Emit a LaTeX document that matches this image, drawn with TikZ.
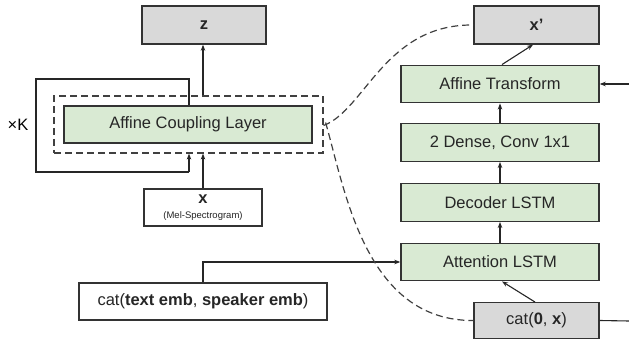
\documentclass[tikz,border=0pt]{standalone}
\usepackage{fontspec}
\setmainfont{Liberation Sans}
\usepackage{xcolor}
\usetikzlibrary{arrows.meta}
\definecolor{boxgreen}{HTML}{D9EAD3}
\definecolor{boxgrey}{HTML}{D9D9D9}
\definecolor{edge}{HTML}{333333}
\begin{document}
\begin{tikzpicture}[x=1pt,y=-1pt,
  font=\fontsize{16.5}{18}\selectfont,
  blk/.style={draw=edge,line width=1.4pt,inner sep=0pt,text=black!85},
  layer/.style={blk,fill=boxgreen,minimum width=198pt,minimum height=37.5pt},
  outbox/.style={blk,fill=boxgrey,minimum height=38pt},
  inbox/.style={blk,fill=white,minimum height=37pt},
  arr/.style={-{Stealth[length=6pt,width=4.5pt]},line width=1.1pt,draw=black!85},
  dashln/.style={line width=1.2pt,draw=black!75,dash pattern=on 7pt off 4pt}]
\useasboundingbox (0,0) rectangle (629,339);

\node[outbox,minimum width=124pt] (z) at (204,25) {\textbf{z}};
\node[layer,minimum width=248pt,minimum height=37pt] (acl) at (188,124.5) {Affine Coupling Layer};
\node[dashln,draw,minimum width=269pt,minimum height=57pt] (cpl) at (188.5,124.5) {};
\node[inbox,minimum width=118pt,align=center] (x) at (203,207.5)
  {\textbf{x}\\[-3pt]{\fontsize{9.5}{10}\selectfont (Mel-Spectrogram)}};
\node[inbox,minimum width=248pt] (cat) at (203,301.5) {cat(\textbf{text emb}, \textbf{speaker emb})};
\node (k) at (18,125) {×K};

\node[outbox,minimum width=125pt] (xp) at (536.5,25) {\textbf{x\textquoteright}};
\node[layer] (at) at (500,84) {Affine Transform};
\node[layer] (dense) at (500,142.5) {2 Dense, Conv 1x1};
\node[layer] (dec) at (500,202.5) {Decoder LSTM};
\node[layer] (attn) at (500,262) {Attention LSTM};
\node[outbox,minimum width=125pt,minimum height=35.5pt] (c0) at (536.5,320.5) {cat(\textbf{0}, \textbf{x})};

\coordinate (lp) at (189,0);
\coordinate (rin) at (629,84);
\coordinate (rout) at (629,321);

\draw[arr] (cpl.north -| x) -- (z.south -| x);
\draw[line width=1.1pt,draw=black!85] (acl.north -| lp) |- (36,79) |- (189,172);
\draw[arr] (189,172) -- (cpl.south -| lp);
\draw[arr] (x.north) -- (cpl.south -| x);
\draw[arr] (cat.north) |- (attn.west);

\draw[arr] (attn) -- (dec);
\draw[arr] (dec) -- (dense);
\draw[arr] (dense) -- (at);
\draw[arr] ([xshift=2pt]at.north) -- ([xshift=-3.5pt]xp.south);
\draw[arr] ([xshift=-1.5pt]c0.north) -- ([xshift=2pt]attn.south);
\draw[arr] (rin) -- (at.east);
\draw[line width=1.1pt,draw=black!85] (c0.east) -- (rout);

\draw[dashln] ([yshift=-1pt]cpl.east) .. controls (365,110) and (385,24) .. (xp.west);
\draw[dashln] ([xshift=2pt,yshift=2pt]cpl.east) .. controls (345,190) and (365,321) .. (c0.west);
\end{tikzpicture}
\end{document}
